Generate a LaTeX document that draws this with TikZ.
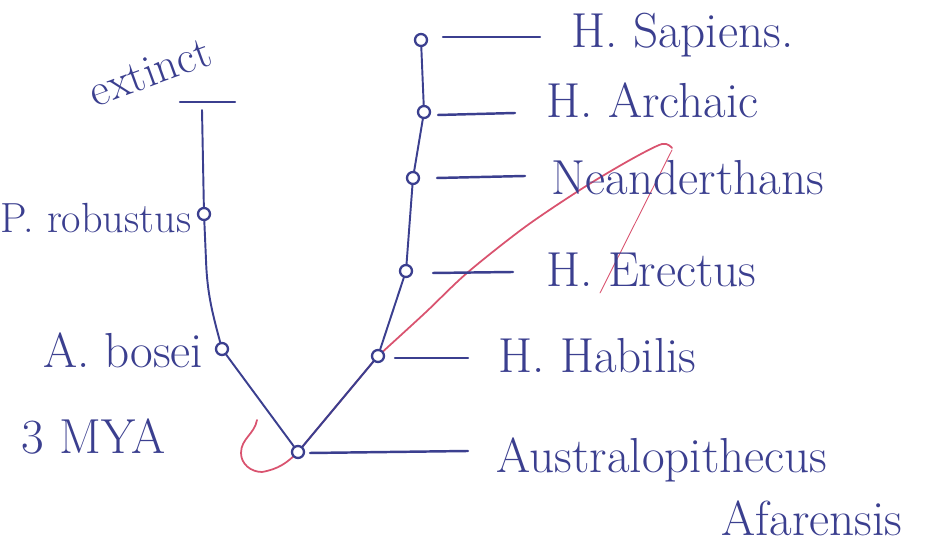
\documentclass[tikz,border=0pt]{standalone}
\usepackage{tikz,tkz-euclide}
\definecolor{ink}{HTML}{3B3F8F}
\definecolor{pinkink}{HTML}{D9536F}

\begin{document}
\begin{tikzpicture}[x=0.02cm,y=0.02cm,line join=round,line cap=round,
	font=\fontsize{28}{32}\selectfont,color=ink,line width=1.1pt,
	fossil/.style={draw=ink,fill=white,line width=1.3pt}]
	\useasboundingbox (0,0) rectangle (943,550);
	\tkzDefPoints{298/98/Aa, 378/194/Hh, 406/279/He, 413/372/Ne, 424/438/Ha, 421/510/Hs}
	\tkzDefPoints{222/201/Ab, 204/336/Pr, 202/440/Ex, 180/448/T1, 235/448/T2}
	% leader lines
	\tkzDefPoints{310/97/a1, 468/99/a2, 395/192/b1, 468/192/b2, 433/277/c1, 513/278/c2}
	\tkzDefPoints{437/372/d1, 525/374/d2, 438/435/e1, 515/437/e2, 443/513/f1, 540/513/f2}
	% pink loop
	\draw[pinkink,line width=1pt] (257,130) to[out=-100,in=90] (241,97) to[out=-90,in=180] (262,78)
		to[out=10,in=225] (Aa) -- (Hh)
		plot[smooth] coordinates {(Hh) (425,237) (467,277) (525,323) (583,362) (630,390) (662,406) (672,402)};
	\draw[pinkink,line width=0.5pt] (672,400) -- (600,257);
	% lineages
	\tkzDrawSegments[color=ink,line width=1.1pt](Aa,Hh Hh,He He,Ne Ne,Ha Ha,Hs)
	\draw (Aa) -- (Ab) to[out=105,in=-88] (206,290) -- (Pr) -- (Ex);
	\tkzDrawSegments[color=ink,line width=1.4pt](T1,T2 a1,a2 b1,b2 c1,c2 d1,d2 e1,e2 f1,f2)
	\foreach \p in {Aa,Hh,He,Ne,Ha,Hs,Ab,Pr}
		\draw[fossil] (\p) circle (6);
	% names
	\node[anchor=west] (hs) at (565,515) {H. Sapiens.};
	\node[anchor=west] (ha) at (540,450) {H. Archaic};
	\node[anchor=west] (ne) at (545,372) {Neanderthans};
	\node[anchor=west] (he) at (540,280) {H. Erectus};
	\node[anchor=west] (hh) at (492,194) {H. Habilis};
	\node[anchor=west] (aa) at (490,90) {Australopithecus};
	\node[anchor=west] (af) at (715,32) {Afarensis};
	\node[anchor=east,font=\fontsize{24}{28}\selectfont] (pr) at (198,332) {P. robustus};
	\node[anchor=east] (ab) at (210,200) {A. bosei};
	\node[anchor=west] (mya) at (15,113) {3 MYA};
	\node[rotate=20,font=\fontsize{26}{30}\selectfont] (ext) at (150,478) {extinct};
\end{tikzpicture}
\end{document}
